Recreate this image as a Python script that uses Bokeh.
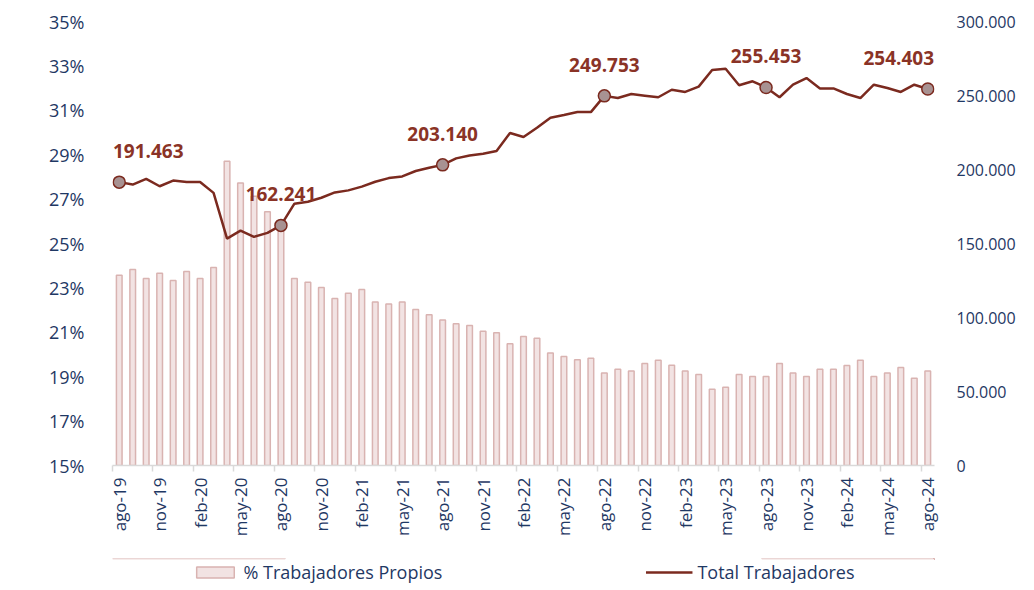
import math
from bokeh.plotting import figure
from bokeh.layouts import column
from bokeh.models import (Range1d, LinearAxis, FixedTicker, ColumnDataSource,
                          Label, Legend, LegendItem)
from bokeh.embed import file_html
from bokeh.resources import INLINE

# ---------------- data ----------------
months = ["ago-19", "sep-19", "oct-19", "nov-19", "dic-19", "ene-20", "feb-20", "mar-20",
          "abr-20", "may-20", "jun-20", "jul-20", "ago-20", "sep-20", "oct-20", "nov-20",
          "dic-20", "ene-21", "feb-21", "mar-21", "abr-21", "may-21", "jun-21", "jul-21",
          "ago-21", "sep-21", "oct-21", "nov-21", "dic-21", "ene-22", "feb-22", "mar-22",
          "abr-22", "may-22", "jun-22", "jul-22", "ago-22", "sep-22", "oct-22", "nov-22",
          "dic-22", "ene-23", "feb-23", "mar-23", "abr-23", "may-23", "jun-23", "jul-23",
          "ago-23", "sep-23", "oct-23", "nov-23", "dic-23", "ene-24", "feb-24", "mar-24",
          "abr-24", "may-24", "jun-24", "jul-24", "ago-24"]

pct_propios = [23.57, 23.83, 23.42, 23.66, 23.33, 23.74, 23.42, 23.92,
               28.71, 27.73, 27.13, 26.43, 25.60,
               23.42, 23.26, 23.02, 22.52, 22.76, 22.93, 22.36,
               22.27, 22.36, 22.03, 21.79, 21.55, 21.38, 21.31, 21.05, 20.98, 20.48,
               20.81, 20.73, 20.07, 19.91, 19.76, 19.83, 19.17, 19.34, 19.26, 19.59,
               19.74, 19.52, 19.26, 19.10, 18.44, 18.53, 19.10, 19.01, 19.01, 19.59,
               19.17, 19.01, 19.34, 19.34, 19.50, 19.74, 19.01, 19.17, 19.41, 18.93, 19.26]

total_trabajadores = [191463, 189800, 193700, 188700, 192500, 191600, 191600, 184200,
                      153300, 158700, 154500, 157200, 162241,
                      176900, 178200, 180900, 184500, 185900, 188400, 191700,
                      194200, 195300, 199000, 201200, 203140, 207500, 209500, 210700,
                      212500, 224700, 222000, 228200, 235000, 236800, 238800, 238800,
                      249753, 248300, 251000, 249900, 248800, 253900, 252400, 256000,
                      267200, 268100, 256900, 259600, 255453, 248800, 257300, 261800,
                      254800, 254800, 251000, 248300, 257300, 255100, 252400, 257300,
                      254403]

labeled_months = ["ago-19", "ago-20", "ago-21", "ago-22", "ago-23", "ago-24"]

x_tick_labels = ["ago-19", "nov-19", "feb-20", "may-20", "ago-20", "nov-20", "feb-21",
                 "may-21", "ago-21", "nov-21", "feb-22", "may-22", "ago-22", "nov-22",
                 "feb-23", "may-23", "ago-23", "nov-23", "feb-24", "may-24", "ago-24"]

left_ticks = [15, 17, 19, 21, 23, 25, 27, 29, 31, 33, 35]
right_ticks = [0, 50000, 100000, 150000, 200000, 250000, 300000]

series_names = ["% Trabajadores Propios", "Total Trabajadores"]

# ---------------- styling ----------------
NAVY = "#1F3864"
LINE_RED = "#7B2A1F"
LABEL_RED = "#8A3326"
BAR_FILL = "#F2E3E3"
BAR_LINE = "#D9B3B1"
FONT = "Open Sans"

def fmt_thousands(v):
    return f"{v:,}".replace(",", ".")

idx = list(range(len(months)))
src = ColumnDataSource(dict(x=idx, pct=pct_propios, tot=total_trabajadores))

lab_idx = [months.index(m) for m in labeled_months]
lab_src = ColumnDataSource(dict(
    x=lab_idx,
    tot=[total_trabajadores[i] for i in lab_idx],
))

p = figure(width=1018, height=558,
           x_range=Range1d(-0.5, len(months) - 0.5), y_range=Range1d(15, 35),
           output_backend="svg", toolbar_location=None,
           min_border_left=62, min_border_top=21, min_border_right=81,
           min_border_bottom=93)
p.extra_y_ranges = {"tot": Range1d(0, 300000)}
p.xgrid.visible = False
p.ygrid.visible = False
p.outline_line_color = None
p.background_fill_color = "white"

p.vbar(x="x", top="pct", bottom=15, width=0.42, source=src,
       fill_color=BAR_FILL, line_color=BAR_LINE, line_width=1.5)
p.line(x="x", y="tot", source=src, y_range_name="tot",
       line_color=LINE_RED, line_width=2.5)
p.scatter(x="x", y="tot", source=lab_src, y_range_name="tot", size=12,
          fill_color="#A89292", line_color=LINE_RED, line_width=1.5)

last = len(months) - 1
for i in lab_idx:
    # labels at the plot edges are nudged inward so they are not clipped
    shift = 29 if i == 0 else (-29 if i == last else 0)
    p.add_layout(Label(x=i, y=total_trabajadores[i], y_range_name="tot",
                       text=fmt_thousands(total_trabajadores[i]),
                       x_offset=shift, y_offset=31,
                       text_align="center", text_baseline="middle",
                       text_font=FONT, text_font_style="bold",
                       text_font_size="19px", text_color=LABEL_RED))

# x axis
xa = p.xaxis[0]
major = [months.index(m) for m in x_tick_labels]
minor = [m - 0.5 for m in major]
xa.ticker = FixedTicker(ticks=major, minor_ticks=minor)
xa.major_label_overrides = {m: lbl for m, lbl in zip(major, x_tick_labels)}
xa.major_label_orientation = math.pi / 2
xa.major_tick_in = 0
xa.major_tick_out = 0
xa.minor_tick_in = 0
xa.minor_tick_out = 6
xa.minor_tick_line_color = "#D9D9D9"
xa.minor_tick_line_width = 1.5
xa.axis_line_color = "#D9D9D9"
xa.axis_line_width = 1.5
xa.major_label_standoff = 6
xa.major_label_text_font = FONT
xa.major_label_text_font_size = "17px"
xa.major_label_text_color = NAVY

# left axis
ya = p.yaxis[0]
ya.ticker = FixedTicker(ticks=left_ticks)
ya.major_label_overrides = {t: f"{t}%" for t in left_ticks}
ya.axis_line_color = None
ya.major_tick_line_color = None
ya.minor_tick_line_color = None
ya.major_label_standoff = 22
ya.major_label_text_font = FONT
ya.major_label_text_font_size = "18px"
ya.major_label_text_color = NAVY

# right axis
ra = LinearAxis(y_range_name="tot", ticker=FixedTicker(ticks=right_ticks))
ra.major_label_overrides = {t: fmt_thousands(t) for t in right_ticks}
ra.axis_line_color = None
ra.major_tick_line_color = None
ra.minor_tick_line_color = None
ra.major_label_standoff = 16
ra.major_label_text_font = FONT
ra.major_label_text_font_size = "16px"
ra.major_label_text_color = NAVY
p.add_layout(ra, "right")

# ---------------- legend strip below the chart ----------------
# the strip's ranges leave the series themselves out of view; only their
# legend swatches are shown
leg = figure(width=1018, height=28, x_range=Range1d(0, 1), y_range=Range1d(0, 1),
             output_backend="svg", toolbar_location=None,
             x_axis_location=None, y_axis_location=None,
             min_border_left=112, min_border_right=0, min_border_top=0,
             min_border_bottom=0)
leg.xgrid.visible = False
leg.ygrid.visible = False
leg.outline_line_color = None
r_bar = leg.vbar(x="x", top="pct", bottom=15, width=0.42, source=src,
                 fill_color=BAR_FILL, line_color=BAR_LINE, line_width=1.5)
r_line = leg.line(x="x", y="tot", source=src, line_color=LINE_RED, line_width=2.5)
legend = Legend(items=[LegendItem(label=series_names[0], renderers=[r_bar]),
                       LegendItem(label=series_names[1], renderers=[r_line])],
                orientation="horizontal", location="center",
                spacing=203, glyph_width=47, glyph_height=14, label_standoff=5,
                padding=0, margin=0, border_line_color=None,
                background_fill_alpha=0,
                label_text_font=FONT, label_text_font_size="18px",
                label_text_color=NAVY)
leg.add_layout(legend, "center")

layout = column(p, leg, spacing=0)
open("out.html", "w").write(file_html(layout, INLINE))
